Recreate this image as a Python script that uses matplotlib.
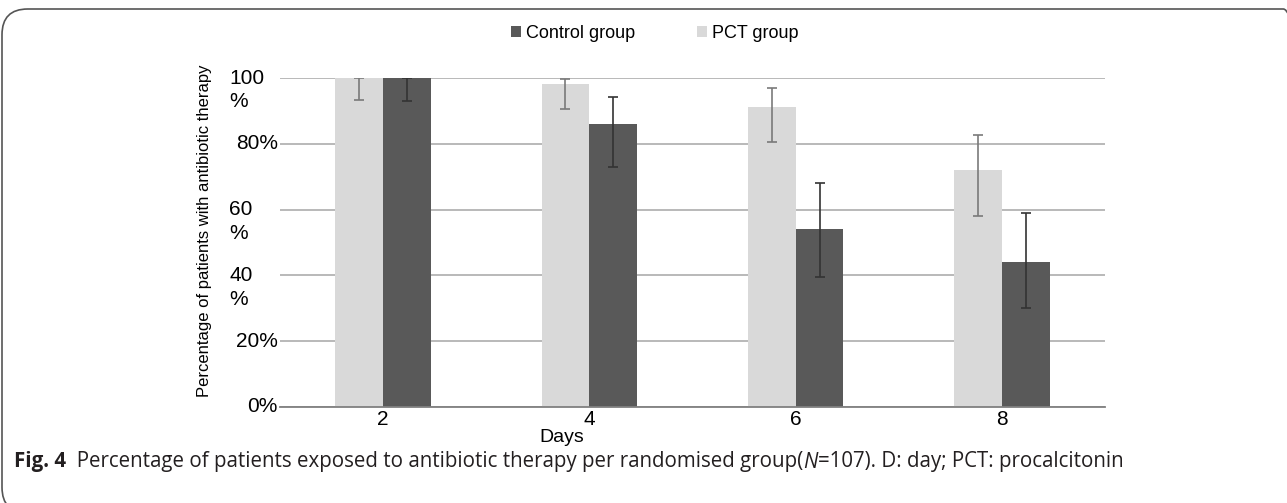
import matplotlib.pyplot as plt
import numpy as np
from matplotlib.patches import FancyBboxPatch

days = ["2", "4", "6", "8"]
pct_vals = [100, 98.2, 91.2, 72.0]
pct_low = [93.3, 90.6, 80.5, 58.1]
pct_high = [100, 99.7, 97.0, 82.7]
ctrl_vals = [100, 86.0, 54.1, 44.1]
ctrl_low = [93.0, 73.0, 39.5, 30.1]
ctrl_high = [100, 94.2, 68.1, 59.0]
ytick_vals = [0, 20, 40, 60, 80, 100]
ytick_labels = ["0%", "20%", "40\n%", "60\n%", "80%", "100\n%"]

plt.rcParams['font.family'] = ['Liberation Sans', 'DejaVu Sans']

W, H = 1287, 503
fig = plt.figure(figsize=(W / 100, H / 100), dpi=100)
ax = fig.add_axes([280 / W, 1 - 407 / H, 825 / W, 329 / H])

x = np.arange(len(days))
bw = 0.232
pct = np.array(pct_vals)
ctrl = np.array(ctrl_vals)
b_pct = ax.bar(x - bw / 2, pct, bw, color="#d9d9d9", zorder=2, label="PCT group")
b_ctrl = ax.bar(x + bw / 2, ctrl, bw, color="#595959", zorder=2, label="Control group")
ax.errorbar(x - bw / 2, pct, yerr=[pct - np.array(pct_low), np.array(pct_high) - pct],
            fmt="none", ecolor="#7a7a7a", elinewidth=1.2, capsize=3.5, capthick=1.2, zorder=3)
ax.errorbar(x + bw / 2, ctrl, yerr=[ctrl - np.array(ctrl_low), np.array(ctrl_high) - ctrl],
            fmt="none", ecolor="#333333", elinewidth=1.2, capsize=3.5, capthick=1.2, zorder=3)

ax.set_xlim(-0.5, len(days) - 0.5)
ax.set_ylim(0, 100)
ax.set_xticks(x)
ax.set_xticklabels(days, fontsize=15)
ax.tick_params(axis="x", length=0, pad=2)
ax.set_yticks(ytick_vals)
ax.set_yticklabels([])
ax.tick_params(axis="y", length=0)
ax.grid(axis="y", color="#a6a6a6", lw=1.1, zorder=0)
for s in ["top", "right", "left"]:
    ax.spines[s].set_visible(False)
ax.spines["bottom"].set_color("#808080")
ax.spines["bottom"].set_linewidth(1.3)

# y tick labels (Excel-style wrapping)
trans = ax.get_yaxis_transform()
for v, lab in zip(ytick_vals, ytick_labels):
    if "\n" in lab:
        top, bottom = lab.split("\n")
        ax.text(-51 / 825, v, top, transform=trans, ha="left", va="center", fontsize=15)
        ax.annotate(bottom, (-51 / 825, v), xycoords=trans, xytext=(0, -17),
                    textcoords="offset points", ha="left", va="center", fontsize=15)
    else:
        ax.text(-2 / 825, v, lab, transform=trans, ha="right", va="center", fontsize=15)

fig.text(204 / W, 1 - 231 / H, "Percentage of patients with antibiotic therapy",
         rotation=90, ha="center", va="center", fontsize=12)
fig.text(562 / W, 1 - 438 / H, "Days", ha="center", va="center", fontsize=14)

fig.legend([b_ctrl, b_pct], ["Control group", "PCT group"], loc="center",
           bbox_to_anchor=(655 / W, 1 - 33 / H), ncol=2, frameon=False, fontsize=13,
           handlelength=0.55, handleheight=0.55, handletextpad=0.3, columnspacing=3.4)

# frame
frame = FancyBboxPatch((2 / W, -10 / H), (W + 20) / W, (H - 9 + 10) / H,
                       boxstyle="round,pad=0,rounding_size=0.02", transform=fig.transFigure,
                       fill=False, edgecolor="#555555", lw=1.2, clip_on=False,
                       mutation_aspect=W / H)
fig.patches.append(frame)

# caption
cap_y = 1 - 462 / H
renderer = fig.canvas.get_renderer()
pieces = [("Fig. 4", "bold", "normal"),
          ("  Percentage of patients exposed to antibiotic therapy per randomised group(", "normal", "normal"),
          ("N", "normal", "italic"),
          ("=107). D: day; PCT: procalcitonin", "normal", "normal")]
cx = 14
for txt, wt, st in pieces:
    t = fig.text(cx / W, cap_y, txt, ha="left", va="center", fontsize=14.8,
                 fontweight=wt, fontstyle=st, family=["Open Sans", "DejaVu Sans"], color="#231f20")
    bb = t.get_window_extent(renderer)
    cx += bb.width

fig.savefig("out.png", dpi=100)
